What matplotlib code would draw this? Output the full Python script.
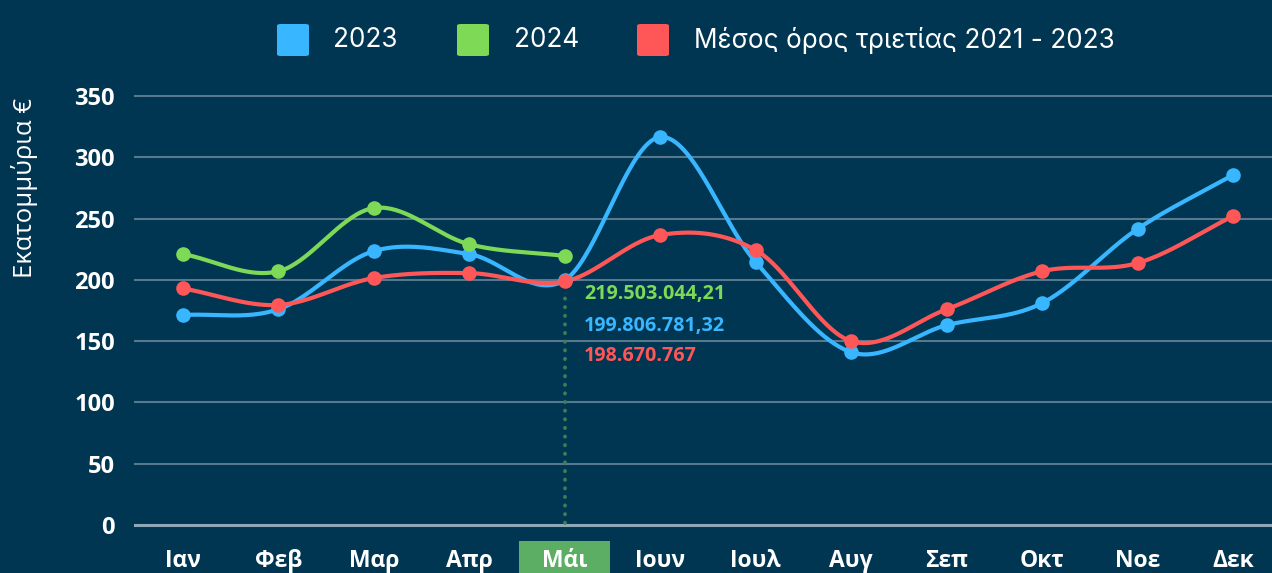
import numpy as np
import matplotlib
matplotlib.use("Agg")
import matplotlib.pyplot as plt
import matplotlib.transforms as mtransforms
from matplotlib.patches import FancyBboxPatch, Rectangle

# ---- data ----
months = ["Ιαν", "Φεβ", "Μαρ", "Απρ", "Μάι", "Ιουν", "Ιουλ", "Αυγ", "Σεπ", "Οκτ", "Νοε", "Δεκ"]
vals_2023 = [171.3, 176.0, 223.5, 221.0, 199.8, 316.5, 214.5, 141.0, 163.0, 181.0, 241.5, 285.5]
vals_2024 = [221.0, 207.0, 258.6, 229.0, 219.5]
vals_avg = [193.0, 179.5, 201.5, 205.5, 198.7, 236.6, 224.3, 150.0, 176.0, 207.0, 213.7, 252.0]
y_ticks = [0, 50, 100, 150, 200, 250, 300, 350]
legend_labels = ["2023", "2024", "Μέσος όρος τριετίας 2021 - 2023"]
annot_texts = ["219.503.044,21", "199.806.781,32", "198.670.767"]
highlight_idx = 4
y_label = "Εκατομμύρια €"

BG = "#003652"
C_BLUE = "#38B6FF"
C_GREEN = "#7ED957"
C_RED = "#FF5757"
C_GRID = "#58788e"
C_HL = "#5BAE63"
C_DOT = "#3C7F54"

plt.rcParams['font.family'] = ['Open Sans', 'DejaVu Sans']


def catmull(xs, ys, n=40):
    xs = np.asarray(xs, float)
    ys = np.asarray(ys, float)
    if len(xs) < 3:
        return xs, ys
    P = np.column_stack([xs, ys])
    P = np.vstack([2 * P[0] - P[1], P, 2 * P[-1] - P[-2]])
    out = []
    t = np.linspace(0, 1, n)[:, None]
    for i in range(1, len(P) - 2):
        p0, p1, p2, p3 = P[i - 1], P[i], P[i + 1], P[i + 2]
        seg = 0.5 * ((2 * p1) + (-p0 + p2) * t + (2 * p0 - 5 * p1 + 4 * p2 - p3) * t ** 2
                     + (-p0 + 3 * p1 - 3 * p2 + p3) * t ** 3)
        out.append(seg if i == 1 else seg[1:])
    out = np.vstack(out)
    return out[:, 0], out[:, 1]


fig = plt.figure(figsize=(12.72, 5.73), dpi=100)
fig.patch.set_facecolor(BG)

W, H = 1272, 573
ax_left = 135 / W
ax_bottom = (H - 525) / H
ax_top = (H - 96) / H
ax = fig.add_axes([ax_left, ax_bottom, 1 - ax_left, ax_top - ax_bottom])
ax.set_facecolor(BG)

x_all = np.arange(len(months))
ax.set_xlim(-0.503, (1272 - 183) / 95.45)
ax.set_ylim(0, 350)

for s in ax.spines.values():
    s.set_visible(False)

for yv in y_ticks:
    if yv == 0:
        ax.axhline(yv, color="#8ea8b8", lw=2.2, zorder=1, clip_on=False)
    else:
        ax.axhline(yv, color=C_GRID, lw=1.5, zorder=1, clip_on=False)

ax.set_yticks(y_ticks)
ax.set_yticklabels([str(v) for v in y_ticks], fontsize=17, fontweight='bold', color='white')
ax.tick_params(axis='y', length=0, pad=14.4)
ax.set_xticks(x_all)
ax.set_xticklabels(months, fontsize=16.5, fontweight='bold', color='white')
ax.tick_params(axis='x', length=0, pad=17.5)

# highlight box behind May label
trans = mtransforms.blended_transform_factory(ax.transData, ax.transAxes)
ax.add_patch(Rectangle((highlight_idx - 0.477, -0.2), 0.954, 0.2 - 16 / 429, transform=trans,
                       facecolor=C_HL, edgecolor='none', clip_on=False, zorder=0))

# dotted vertical line at highlighted month
ax.plot([highlight_idx, highlight_idx], [2, vals_avg[highlight_idx] - 8], color=C_DOT, lw=2.7,
        linestyle=(0, (0.1, 2.2)), dash_capstyle='round', solid_capstyle='round', zorder=2)

# series
series = [(vals_2023, C_BLUE), (vals_2024, C_GREEN), (vals_avg, C_RED)]
for vals, col in series:
    xs = np.arange(len(vals))
    sx, sy = catmull(xs, vals)
    ax.plot(sx, sy, color=col, lw=3, zorder=3, clip_on=False, solid_capstyle='round')
    ax.plot(xs, vals, 'o', color=col, ms=10.5, zorder=4, clip_on=False, markeredgewidth=0)

# annotations
ann_y = [188.5, 162.5, 138.0]
ann_cols = [C_GREEN, C_BLUE, C_RED]
for txt, yv, col in zip(annot_texts, ann_y, ann_cols):
    ax.text(highlight_idx + 0.2, yv, txt, color=col, fontsize=14.2, fontweight='bold',
            va='center', ha='left', zorder=5)

# y label
fig.text(25 / W, 1 - 188 / H, y_label, rotation=90, color='white', fontsize=18.5,
         ha='center', va='center')

# legend
leg_sq = [277, 457, 637]
leg_txt = [333, 514, 694]
leg_cols = [C_BLUE, C_GREEN, C_RED]
for sx0, tx0, lab, col in zip(leg_sq, leg_txt, legend_labels, leg_cols):
    fig.patches.append(FancyBboxPatch((sx0 / W, 1 - 56 / H), 32 / W, 32 / H,
                                      boxstyle="round,pad=0,rounding_size=0.003",
                                      transform=fig.transFigure, facecolor=col, edgecolor='none'))
    fig.text(tx0 / W, 1 - 40 / H, lab, color='white', fontsize=18.8, family=['Inter', 'DejaVu Sans'],
             fontweight='normal', ha='left', va='center')

fig.savefig("out.png", dpi=100, facecolor=BG)
